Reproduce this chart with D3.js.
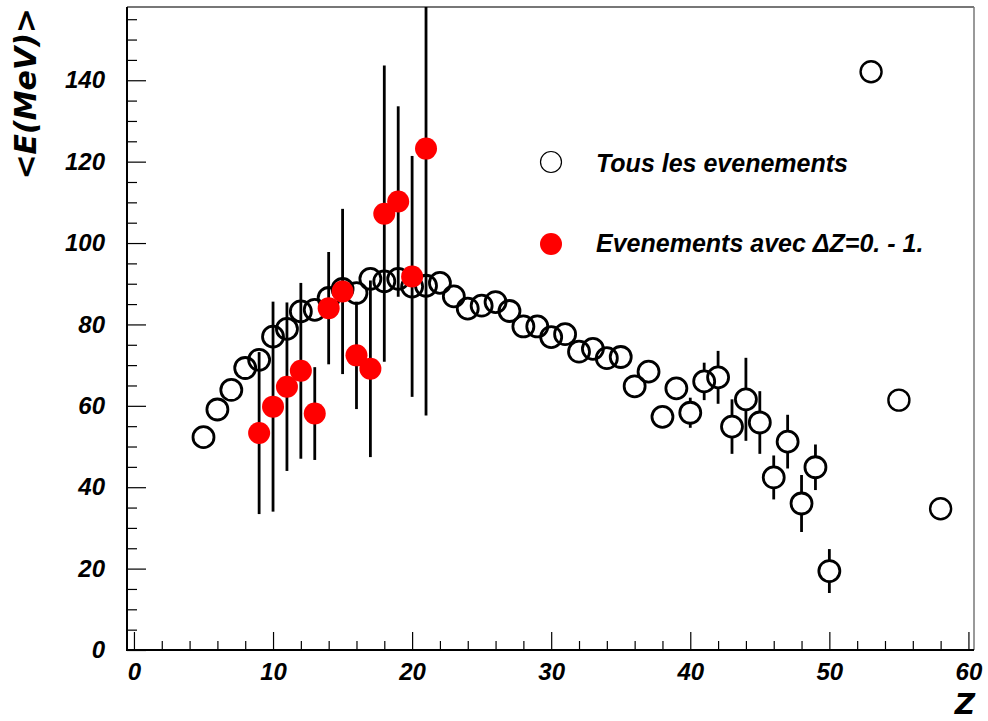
<!DOCTYPE html>
<html>
<head>
<meta charset="utf-8">
<script src="https://cdn.jsdelivr.net/npm/d3@7"></script>
<style>
  body { margin: 0; background: #fff; }
  .tick text { font-family: "Liberation Sans", Arial, sans-serif; font-weight: bold; font-style: italic; font-size: 24px; fill: #000; }
  .tick line { stroke: #000; stroke-width: 1.2; }
  .title { font-family: "DejaVu Sans", sans-serif; font-weight: bold; font-style: italic; font-size: 30px; }
  .legend { font-family: "Liberation Sans", Arial, sans-serif; font-weight: bold; font-style: italic; font-size: 25px; }
</style>
</head>
<body>
<div id="chart"></div>
<script>
// all events (open circles)
const allZ = [5,6,7,8,9,10,11,12,13,14,15,16,17,18,19,20,21,22,23,24,25,26,27,28,29,30,
              31,32,33,34,35,36,37,38,39,40,41,42,43,44,45,46,47,48,49,50,53,55,58];
const allE = [52.3,59.1,63.9,69.3,71.3,77.0,78.9,83.2,83.6,86.5,88.7,87.7,91.2,90.6,91.2,89.3,89.5,90.2,86.9,83.9,
              84.6,85.5,83.3,79.5,79.5,76.9,77.6,73.3,74.0,71.7,72.0,64.8,68.4,57.3,64.3,58.3,66.0,67.0,54.9,61.6,
              55.9,42.4,51.2,36.0,44.9,19.4,142.1,61.4,34.7];
const allErr = [1,1,1,1,1,1,1,1,1,1,1,1,1,1,1,1,1,1.2,1.2,1.2,1.2,1.3,1.3,1.3,1.4,1.4,1.5,1.5,1.6,1.6,1.7,
                2,2,2,2.3,3.7,4.6,6.5,6.7,10.2,7.7,5.4,6.6,7.0,5.6,5.4,0,0,0];

// events with dZ = 0 - 1 (red dots)
const selZ = [9,10,11,12,13,14,15,16,17,18,19,20,21];
const selE = [53.3,59.8,64.7,68.6,58.1,84.0,88.1,72.4,69.1,107.2,110.2,91.8,123.2];
const selErr = [19.9,25.8,20.7,21.6,11.4,13.8,20.3,13.2,21.7,36.4,23.4,29.6,65.6];

const xMajor = d3.range(0, 61, 10);
const xMinor = d3.range(0, 61, 2).filter(v => v % 10 !== 0);
const yMajor = d3.range(0, 141, 20);
const yMinor = d3.range(0, 158, 5).filter(v => v % 20 !== 0);

const W = 988, H = 721;
const fLeft = 127, fRight = 974, fTop = 7, fBottom = 650;

const svg = d3.select("#chart").append("svg")
    .attr("width", W)
    .attr("height", H);

const x = d3.scaleLinear().domain([-0.5, 60.4]).range([fLeft, fRight]);
const y = d3.scaleLinear().domain([0, 158]).range([fBottom, fTop]);

svg.append("defs").append("clipPath").attr("id", "frame")
  .append("rect").attr("x", fLeft).attr("y", fTop).attr("width", fRight - fLeft).attr("height", fBottom - fTop);

// axes, ticks pointing inwards
svg.append("g").attr("transform", "translate(0," + fBottom + ")")
    .call(d3.axisBottom(x).tickValues(xMinor).tickSize(-9).tickFormat(""))
    .call(g => g.select(".domain").remove());
svg.append("g").attr("transform", "translate(0," + fBottom + ")")
    .call(d3.axisBottom(x).tickValues(xMajor).tickSize(-18).tickPadding(13))
    .call(g => g.select(".domain").remove());

svg.append("g").attr("transform", "translate(" + fLeft + ",0)")
    .call(d3.axisLeft(y).tickValues(yMinor).tickSize(-10).tickFormat(""))
    .call(g => g.select(".domain").remove());
svg.append("g").attr("transform", "translate(" + fLeft + ",0)")
    .call(d3.axisLeft(y).tickValues(yMajor).tickSize(-19).tickPadding(22))
    .call(g => g.select(".domain").remove());

// frame
svg.append("line").attr("x1", fLeft).attr("x2", fRight).attr("y1", fTop).attr("y2", fTop)
    .attr("stroke", "#777").attr("stroke-width", 2);
svg.append("line").attr("x1", fRight).attr("x2", fRight).attr("y1", fTop).attr("y2", fBottom)
    .attr("stroke", "#777").attr("stroke-width", 1.5);
svg.append("line").attr("x1", fLeft).attr("x2", fLeft).attr("y1", fTop).attr("y2", fBottom + 1)
    .attr("stroke", "#000").attr("stroke-width", 2);
svg.append("line").attr("x1", fLeft - 1).attr("x2", fRight).attr("y1", fBottom).attr("y2", fBottom)
    .attr("stroke", "#000").attr("stroke-width", 2);

const plot = svg.append("g").attr("clip-path", "url(#frame)");
const r = 10.5;

// open circles: error bars only outside the marker
allZ.forEach((z, i) => {
    const cx = x(z), cy = y(allE[i]);
    const yt = y(allE[i] + allErr[i]), yb = y(allE[i] - allErr[i]);
    if (cy - r > yt) {
        plot.append("line").attr("x1", cx).attr("x2", cx).attr("y1", yt).attr("y2", cy - r)
            .attr("stroke", "#000").attr("stroke-width", 2.8);
        plot.append("line").attr("x1", cx).attr("x2", cx).attr("y1", cy + r).attr("y2", yb)
            .attr("stroke", "#000").attr("stroke-width", 2.8);
    }
    plot.append("circle").attr("cx", cx).attr("cy", cy).attr("r", r)
        .attr("fill", "none").attr("stroke", "#000").attr("stroke-width", z > 50 ? 2.4 : 2.8);
});

selZ.forEach((z, i) => {
    plot.append("line").attr("x1", x(z)).attr("x2", x(z))
        .attr("y1", y(selE[i] + selErr[i])).attr("y2", y(selE[i] - selErr[i]))
        .attr("stroke", "#000").attr("stroke-width", 2.8);
});
selZ.forEach((z, i) => {
    plot.append("circle").attr("cx", x(z)).attr("cy", y(selE[i])).attr("r", r + 0.5)
        .attr("fill", "#ff0000");
});

// legend
svg.append("circle").attr("cx", 551).attr("cy", 162).attr("r", 10.5)
    .attr("fill", "none").attr("stroke", "#000").attr("stroke-width", 1.2);
svg.append("text").attr("class", "legend").attr("x", 596).attr("y", 172).text("Tous les evenements");
svg.append("circle").attr("cx", 551).attr("cy", 244).attr("r", 11).attr("fill", "#ff0000");
svg.append("text").attr("class", "legend").attr("x", 596).attr("y", 252).text("Evenements avec \u0394Z=0. - 1.");

// titles
svg.append("text").attr("class", "title")
    .attr("transform", "translate(36,8) rotate(-90)")
    .attr("text-anchor", "end")
    .text("<E(MeV)>");
svg.append("text").attr("class", "title")
    .attr("x", 975).attr("y", 714).attr("text-anchor", "end")
    .style("font-size", "28px")
    .text("Z");
</script>
</body>
</html>
